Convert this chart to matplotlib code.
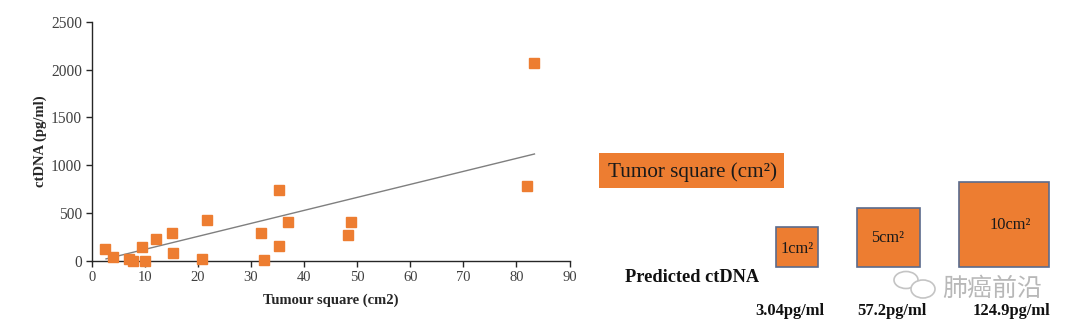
import matplotlib
matplotlib.use("Agg")
import matplotlib.pyplot as plt
from matplotlib.patches import Rectangle, Ellipse

# ---- data ----
tumour_square = [2.5, 4.1, 7.1, 7.7, 9.4, 10.0, 12.1, 15.2, 15.4, 20.8, 21.8,
                 31.9, 32.4, 35.3, 35.3, 37.0, 48.3, 48.8, 82.0, 83.4]
ctdna = [125, 45, 20, 5, 146, 3, 233, 292, 87, 24, 428,
         296, 14, 742, 160, 407, 268, 407, 787, 2065]
trend_x = [2.7, 83.4]
trend_y = [22, 1118]
x_ticks = [0, 10, 20, 30, 40, 50, 60, 70, 80, 90]
y_ticks = [0, 500, 1000, 1500, 2000, 2500]
size_labels = ["1cm²", "5cm²", "10cm²"]
predicted_labels = ["3.04pg/ml", "57.2pg/ml", "124.9pg/ml"]

ORANGE = "#ED7D31"
SERIF = "Liberation Serif"
plt.rcParams["font.family"] = [SERIF, "DejaVu Serif"]

W, H = 1080, 336
fig = plt.figure(figsize=(W / 100, H / 100), dpi=100)
fig.patch.set_facecolor("white")

# ---- scatter axes ----
x_left, x_right, y_bot, y_top = 91.7, 569.5, 261.0, 21.7
ax = fig.add_axes([x_left / W, 1 - y_bot / H, (x_right - x_left) / W, (y_bot - y_top) / H])
ax.plot(trend_x, trend_y, color="#7f7f7f", lw=1.0, zorder=2)
ax.plot(tumour_square, ctdna, ls="none", marker="s", ms=6.8,
        color=ORANGE, mec=ORANGE, zorder=3, clip_on=False)
ax.set_xlim(0, 90)
ax.set_ylim(0, 2500)
ax.set_xticks(x_ticks)
ax.set_yticks(y_ticks)
for s in ["top", "right"]:
    ax.spines[s].set_visible(False)
for s in ["left", "bottom"]:
    ax.spines[s].set_color("#262626")
    ax.spines[s].set_linewidth(1.0)
ax.tick_params(direction="out", length=4, width=1.0, color="#262626",
               labelcolor="#404040", pad=3)
ax.tick_params(axis="y", labelsize=11.2)
ax.tick_params(axis="x", labelsize=10.5)
ax.set_xlabel("Tumour square (cm2)", fontsize=10.5, fontweight="bold",
              color="#262626", labelpad=7)
ax.set_ylabel("ctDNA (pg/ml)", fontsize=10.5, fontweight="bold",
              color="#262626", labelpad=3)

# ---- right-side illustration (pixel overlay) ----
ov = fig.add_axes([0, 0, 1, 1], zorder=5)
ov.set_xlim(0, W)
ov.set_ylim(H, 0)
ov.axis("off")
ov.patch.set_alpha(0)

# title box
ov.add_patch(Rectangle((599, 153), 185, 35, facecolor=ORANGE, edgecolor="none"))
ov.text(692, 172, "Tumor square (cm²)", fontsize=15.2, ha="center", va="center",
        color="#1a1a1a")

# squares
squares = [(776, 227, 42, 40), (857, 208, 63, 59), (959, 182, 90, 85)]
label_pos = [(797, 249), (888, 238), (1010, 225)]
value_x = [790, 892, 1011]
for (x0, y0, w, h), lab, (lx, ly), vx, val in zip(squares, size_labels,
                                                  label_pos, value_x,
                                                  predicted_labels):
    ov.add_patch(Rectangle((x0, y0), w, h, facecolor=ORANGE,
                           edgecolor="#5b6b8c", lw=1.2))
    ov.text(lx, ly, lab, fontsize=11.8, ha="center", va="center", color="#1a1a1a")
    ov.text(vx, 311, val, fontsize=11.9, fontweight="bold", ha="center",
            va="center", color="#111111")

ov.text(625, 277, "Predicted ctDNA", fontsize=13.2, fontweight="bold",
        ha="left", va="center", color="#111111")

# watermark
ov.add_patch(Ellipse((906, 280), 24, 17, facecolor="none", edgecolor="#c4c4c4", lw=1.2))
ov.add_patch(Ellipse((923, 289), 24, 18, facecolor="white", edgecolor="#c4c4c4", lw=1.2))
ov.text(992, 289, "肺癌前沿", fontsize=18, ha="center", va="center",
        color="#b8b8b8", family=["Noto Sans CJK SC", "DejaVu Sans"],
        fontweight="light")

fig.savefig("out.png", dpi=100, facecolor="white")
